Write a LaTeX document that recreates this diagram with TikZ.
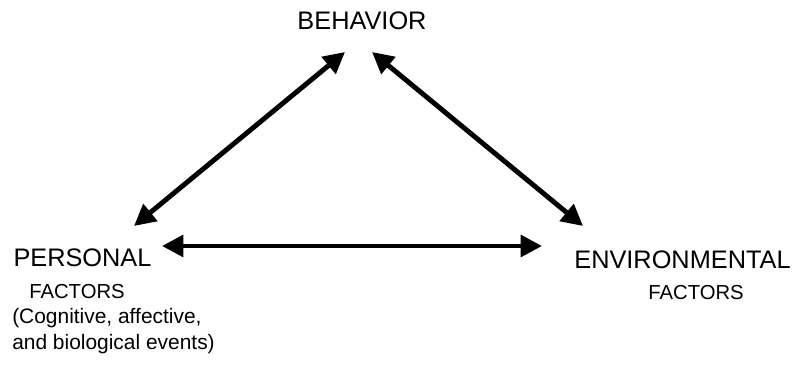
\documentclass[tikz,border=0pt]{standalone}
\usepackage{fontspec}
\setmainfont{Liberation Sans}
\usetikzlibrary{arrows.meta,positioning}
\definecolor{ink}{HTML}{000000}
\tikzset{
  big/.style={inner sep=0pt,anchor=base,font=\fontsize{19}{22}\selectfont,color=ink},
  small/.style={inner sep=0pt,anchor=base,font=\fontsize{15.2}{18}\selectfont,color=ink},
  note/.style={inner sep=0pt,anchor=north west,align=left,font=\fontsize{15.7}{19.5}\selectfont,color=ink},
  arr/.style={{Triangle[length=16pt,width=16pt]}-{Triangle[length=16pt,width=16pt]},line width=3.7pt,color=ink}}
\begin{document}
\begin{tikzpicture}[x=0.75pt,y=-0.75pt]
\useasboundingbox (0,0) rectangle (799,370);
% labels
\node[big] (beh) at (362,30) {BEHAVIOR};
\node[big] (pers) at (82.5,267) {PERSONAL};
\node[small] (persf) at (77,298) {FACTORS};
\node[note] (perse) at (12,308) {(Cognitive, affective,\\and biological events)};
\node[big] (env) at (682.5,268) {ENVIRONMENTAL};
\node[small] (envf) at (696,299) {FACTORS};
% arrow ends
\coordinate (behl) at (345,52);
\coordinate (behr) at (372,52);
\coordinate (persu) at (134,226);
\coordinate (persr) at (162,246);
\coordinate (envu) at (583,226);
\coordinate (envl) at (542,246);
\draw[arr] (persu) -- (behl);
\draw[arr] (behr) -- (envu);
\draw[arr] (persr) -- (envl);
\end{tikzpicture}
\end{document}
